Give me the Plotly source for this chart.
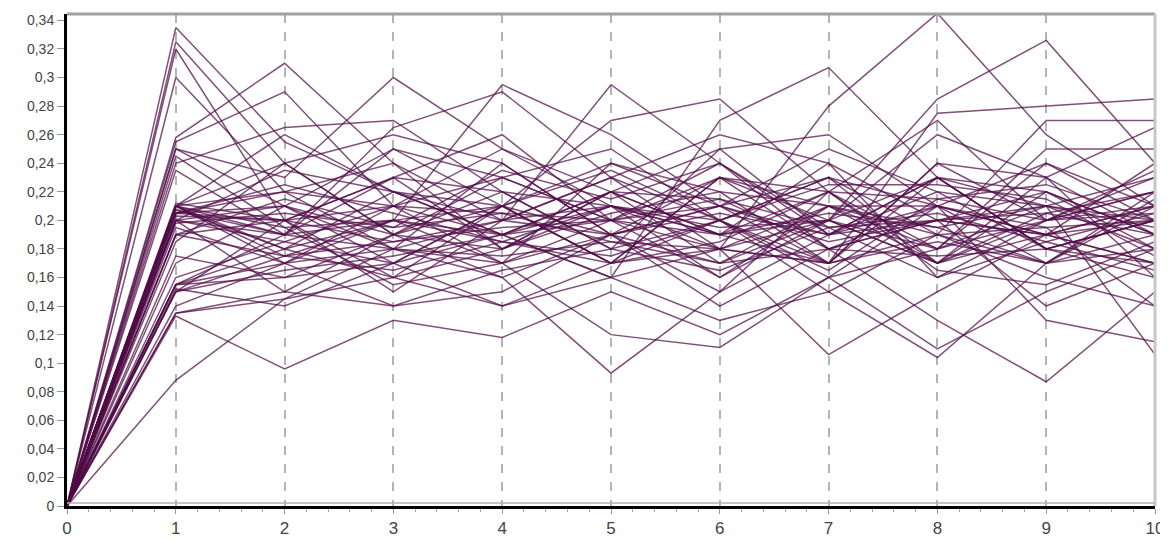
import plotly.graph_objects as go

x_vals = [0, 1, 2, 3, 4, 5, 6, 7, 8, 9, 10]

s01 = [0, .335, .255, .22, .19, .21, .18, .20, .17, .22, .19]
s02 = [0, .325, .24, .19, .21, .17, .23, .18, .21, .19, .24]
s03 = [0, .32, .20, .23, .18, .22, .19, .24, .16, .20, .21]
s04 = [0, .30, .22, .18, .24, .19, .21, .17, .23, .18, .16]
s05 = [0, .258, .31, .24, .20, .23, .18, .21, .19, .17, .22]
s06 = [0, .255, .29, .21, .17, .20, .24, .19, .22, .21, .18]
s07 = [0, .25, .23, .30, .25, .21, .19, .22, .18, .24, .20]
s08 = [0, .24, .265, .27, .22, .18, .20, .23, .21, .19, .17]
s09 = [0, .235, .19, .265, .29, .23, .20, .17, .24, .20, .22]
s10 = [0, .21, .17, .20, .295, .26, .21, .19, .23, .18, .20]
s11 = [0, .208, .18, .22, .20, .295, .24, .18, .20, .22, .19]
s12 = [0, .205, .21, .17, .21, .27, .285, .22, .17, .19, .21]
s13 = [0, .21, .26, .22, .19, .16, .27, .307, .23, .18, .20]
s14 = [0, .20, .15, .19, .23, .20, .18, .28, .345, .26, .21]
s15 = [0, .205, .22, .24, .18, .21, .16, .20, .285, .326, .24]
s16 = [0, .19, .20, .16, .21, .24, .22, .17, .275, .28, .285]
s17 = [0, .21, .24, .19, .16, .19, .21, .23, .19, .27, .27]
s18 = [0, .195, .17, .21, .25, .22, .17, .20, .26, .23, .265]
s19 = [0, .20, .19, .25, .21, .17, .23, .21, .18, .25, .25]
s20 = [0, .17, .21, .18, .20, .23, .26, .24, .20, .21, .23]
s21 = [0, .155, .18, .20, .17, .24, .21, .25, .22, .18, .20]
s22 = [0, .155, .16, .19, .22, .18, .25, .19, .23, .22, .18]
s23 = [0, .15, .20, .15, .20, .21, .20, .23, .17, .20, .22]
s24 = [0, .152, .14, .17, .19, .22, .19, .17, .24, .23, .16]
s25 = [0, .14, .17, .14, .15, .19, .17, .21, .21, .17, .19]
s26 = [0, .135, .145, .16, .14, .17, .20, .15, .19, .16, .14]
s27 = [0, .133, .096, .13, .118, .15, .12, .16, .11, .15, .18]
s28 = [0, .088, .145, .18, .16, .093, .15, .19, .20, .14, .17]
s29 = [0, .21, .19, .18, .17, .12, .111, .16, .18, .21, .106]
s30 = [0, .20, .185, .17, .14, .16, .18, .106, .15, .19, .20]
s31 = [0, .19, .175, .20, .19, .16, .13, .15, .104, .17, .21]
s32 = [0, .175, .16, .17, .21, .19, .14, .18, .13, .087, .15]
s33 = [0, .21, .22, .21, .23, .25, .20, .16, .21, .13, .115]
s34 = [0, .205, .20, .23, .26, .20, .23, .20, .17, .23, .19]
s35 = [0, .20, .21, .19, .18, .22, .25, .26, .21, .24, .21]
s36 = [0, .185, .24, .26, .24, .19, .15, .22, .27, .20, .23]
s37 = [0, .155, .19, .23, .22, .21, .19, .20, .23, .21, .20]
s38 = [0, .21, .175, .185, .195, .20, .21, .185, .20, .205, .19]
s39 = [0, .21, .18, .16, .18, .205, .22, .21, .195, .17, .215]
s40 = [0, .20, .235, .22, .21, .17, .185, .22, .215, .20, .235]
s41 = [0, .15, .165, .175, .19, .22, .215, .18, .20, .19, .17]
s42 = [0, .25, .21, .25, .23, .20, .16, .21, .17, .205, .22]
s43 = [0, .245, .195, .20, .21, .235, .20, .165, .215, .225, .20]
s44 = [0, .21, .195, .155, .17, .19, .23, .22, .165, .155, .185]
s45 = [0, .205, .225, .205, .185, .175, .20, .225, .225, .215, .175]
s46 = [0, .135, .15, .14, .165, .18, .165, .195, .16, .185, .205]
s47 = [0, .16, .185, .21, .205, .185, .18, .17, .19, .195, .14]
s48 = [0, .19, .215, .195, .235, .215, .24, .195, .205, .185, .165]
s49 = [0, .207, .19, .2, .185, .21, .195, .2, .18, .2, .205]
s50 = [0, .203, .2, .185, .2, .19, .205, .19, .21, .195, .2]
s51 = [0, .198, .205, .195, .205, .2, .19, .205, .195, .21, .195]
s52 = [0, .155, .17, .18, .175, .185, .17, .18, .175, .18, .17]
s53 = [0, .15, .175, .165, .185, .17, .18, .17, .185, .17, .18]
s54 = [0, .212, .2, .21, .19, .2, .215, .195, .2, .19, .21]

series = [s01, s02, s03, s04, s05, s06, s07, s08, s09, s10, s11, s12,
          s13, s14, s15, s16, s17, s18, s19, s20, s21, s22, s23, s24,
          s25, s26, s27, s28, s29, s30, s31, s32, s33, s34, s35, s36,
          s37, s38, s39, s40, s41, s42, s43, s44, s45, s46, s47, s48,
          s49, s50, s51, s52, s53, s54]

y_tick_vals = [0, 0.02, 0.04, 0.06, 0.08, 0.1, 0.12, 0.14, 0.16, 0.18, 0.2,
               0.22, 0.24, 0.26, 0.28, 0.3, 0.32, 0.34]
y_tick_text = ["0", "0,02", "0,04", "0,06", "0,08", "0,1", "0,12", "0,14", "0,16",
               "0,18", "0,2", "0,22", "0,24", "0,26", "0,28", "0,3", "0,32", "0,34"]
x_tick_vals = list(range(0, 11))
x_tick_text = [str(v) for v in x_tick_vals]

fig = go.Figure()
for i, s in enumerate(series):
    fig.add_trace(go.Scatter(
        x=x_vals, y=s, mode="lines",
        line=dict(color="rgba(80,12,70,0.72)", width=1.5),
        showlegend=False, hoverinfo="skip",
    ))

# page body has an 8px default margin, so the figure is sized to fit the window
fig.update_layout(
    width=1160, height=533,
    margin=dict(l=59, r=13, t=6, b=35, autoexpand=False),
    paper_bgcolor="white", plot_bgcolor="white",
    font=dict(family="Liberation Sans, Arial, sans-serif", size=14, color="#333333"),
    showlegend=False,
)

fig.update_xaxes(
    range=[0, 10], tickvals=x_tick_vals, ticktext=x_tick_text, automargin=False,
    showgrid=True, gridcolor="#b4b4b4", griddash="dash", gridwidth=1.5,
    showline=True, linecolor="black", linewidth=3,
    ticks="outside", ticklen=5, tickcolor="#999999", tickwidth=1,
    minor=dict(dtick=0.2, ticks="outside", ticklen=3, tickcolor="#aaaaaa", showgrid=False),
    zeroline=False, tickfont=dict(size=17, color="#444444"),
)
fig.update_yaxes(
    range=[0, 0.3445], tickvals=y_tick_vals, ticktext=y_tick_text, automargin=False,
    showgrid=False, showline=True, linecolor="black", linewidth=3,
    ticks="outside", ticklen=7, tickcolor="#999999", tickwidth=1,
    zeroline=False, tickfont=dict(size=14, color="#444444"),
)

# top and right frame borders (gray)
fig.add_shape(type="line", xref="paper", yref="paper", x0=0, x1=1, y0=1, y1=1,
              line=dict(color="#a0a0a0", width=3))
fig.add_shape(type="line", xref="paper", yref="paper", x0=1, x1=1, y0=0, y1=1,
              line=dict(color="#c8c8c8", width=3))
fig.add_shape(type="line", xref="paper", yref="paper", x0=0, x1=1, y0=0.006, y1=0.006,
              line=dict(color="#b0b0b0", width=1.5))

fig.write_html("out.html")
